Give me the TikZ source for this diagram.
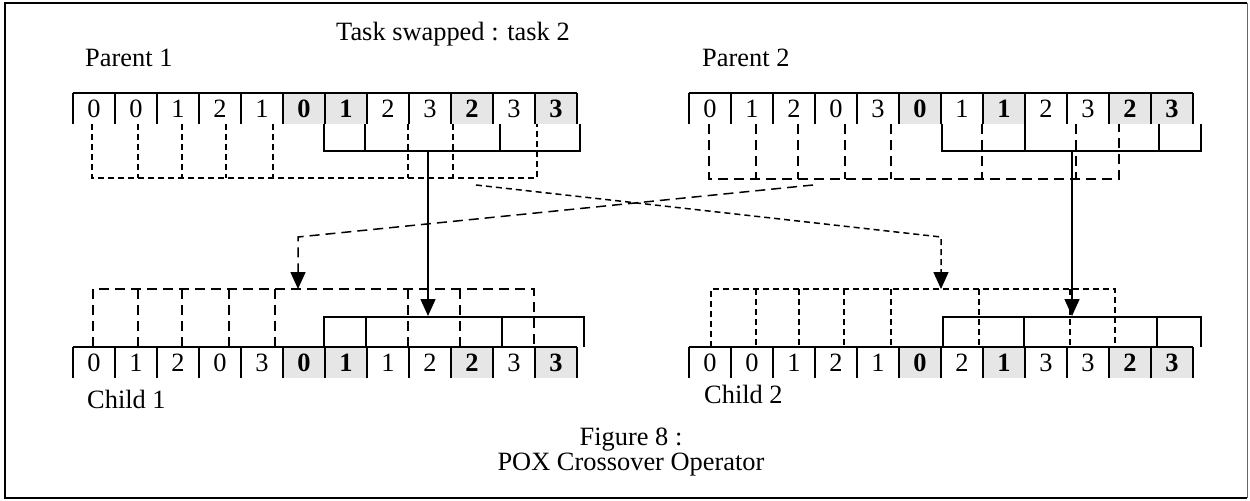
\documentclass[tikz,border=0pt]{standalone}
\usepackage{fontspec}
\setmainfont{Liberation Serif}
\usepackage{tikz}
\usetikzlibrary{arrows.meta}
\definecolor{cellgray}{RGB}{230,230,230}
\newcommand{\figsize}{\fontsize{26.5}{32}\selectfont}
\tikzset{
	rowline/.style={line width=1.6bp},
	cell/.style={minimum width=42bp, minimum height=31bp, inner sep=0pt, anchor=north,
		append after command={(\tikzlastnode.south west) edge[rowline] (\tikzlastnode.north west)
			(\tikzlastnode.north west) edge[rowline] (\tikzlastnode.north east)
			(\tikzlastnode.north east) edge[rowline] (\tikzlastnode.south east)}},
	hcell/.style={cell, fill=cellgray, font=\figsize\bfseries},
	shortdash/.style={line width=1.5bp, dash pattern=on 6bp off 4bp},
	longdash/.style={line width=1.5bp, dash pattern=on 10bp off 6bp},
	bracket/.style={line width=1.5bp},
	heading/.style={anchor=base west, inner sep=0pt},
}

\begin{document}
\begin{tikzpicture}[>={Triangle[length=17bp,width=15bp]}, font=\figsize]
	\useasboundingbox (0bp,0bp) rectangle (1250bp,-501bp);
	\draw [line width=2.2bp] (1247bp,-3bp) -- (5bp,-3bp) -- (5bp,-498bp) -- (1247bp,-498bp);
	\draw [line width=0.8bp, black!60] (1247bp,-3bp) -- (1247bp,-498bp);

	\node (swap) at (336bp,-40bp) [heading] {Task swapped : task 2};
	\node (par1) at (85bp,-66bp) [heading] {Parent 1};
	\node (par2) at (702bp,-66bp) [heading] {Parent 2};
	\node (chi1) at (87bp,-408bp) [heading] {Child 1};
	\node (chi2) at (704bp,-403bp) [heading] {Child 2};
	\node (fig) at (631bp,-445bp) [anchor=base, inner sep=0pt] {Figure 8 :};
	\node (pox) at (631bp,-470bp) [anchor=base, inner sep=0pt] {POX Crossover Operator};

	% parent 1
	\node (p1a) at (94bp,-93bp) [cell] {0};
	\node (p1b) at (136bp,-93bp) [cell] {0};
	\node (p1c) at (178bp,-93bp) [cell] {1};
	\node (p1d) at (220bp,-93bp) [cell] {2};
	\node (p1e) at (262bp,-93bp) [cell] {1};
	\node (p1f) at (304bp,-93bp) [hcell] {0};
	\node (p1g) at (346bp,-93bp) [hcell] {1};
	\node (p1h) at (388bp,-93bp) [cell] {2};
	\node (p1i) at (430bp,-93bp) [cell] {3};
	\node (p1j) at (472bp,-93bp) [hcell] {2};
	\node (p1k) at (514bp,-93bp) [cell] {3};
	\node (p1l) at (556bp,-93bp) [hcell] {3};

	% parent 2
	\node (p2a) at (710bp,-93bp) [cell] {0};
	\node (p2b) at (752bp,-93bp) [cell] {1};
	\node (p2c) at (794bp,-93bp) [cell] {2};
	\node (p2d) at (836bp,-93bp) [cell] {0};
	\node (p2e) at (878bp,-93bp) [cell] {3};
	\node (p2f) at (920bp,-93bp) [hcell] {0};
	\node (p2g) at (962bp,-93bp) [cell] {1};
	\node (p2h) at (1004bp,-93bp) [hcell] {1};
	\node (p2i) at (1046bp,-93bp) [cell] {2};
	\node (p2j) at (1088bp,-93bp) [cell] {3};
	\node (p2k) at (1130bp,-93bp) [hcell] {2};
	\node (p2l) at (1172bp,-93bp) [hcell] {3};

	% child 1
	\node (c1a) at (94bp,-347bp) [cell] {0};
	\node (c1b) at (136bp,-347bp) [cell] {1};
	\node (c1c) at (178bp,-347bp) [cell] {2};
	\node (c1d) at (220bp,-347bp) [cell] {0};
	\node (c1e) at (262bp,-347bp) [cell] {3};
	\node (c1f) at (304bp,-347bp) [hcell] {0};
	\node (c1g) at (346bp,-347bp) [hcell] {1};
	\node (c1h) at (388bp,-347bp) [cell] {1};
	\node (c1i) at (430bp,-347bp) [cell] {2};
	\node (c1j) at (472bp,-347bp) [hcell] {2};
	\node (c1k) at (514bp,-347bp) [cell] {3};
	\node (c1l) at (556bp,-347bp) [hcell] {3};

	% child 2
	\node (c2a) at (710bp,-347bp) [cell] {0};
	\node (c2b) at (752bp,-347bp) [cell] {0};
	\node (c2c) at (794bp,-347bp) [cell] {1};
	\node (c2d) at (836bp,-347bp) [cell] {2};
	\node (c2e) at (878bp,-347bp) [cell] {1};
	\node (c2f) at (920bp,-347bp) [hcell] {0};
	\node (c2g) at (962bp,-347bp) [cell] {2};
	\node (c2h) at (1004bp,-347bp) [hcell] {1};
	\node (c2i) at (1046bp,-347bp) [cell] {3};
	\node (c2j) at (1088bp,-347bp) [cell] {3};
	\node (c2k) at (1130bp,-347bp) [hcell] {2};
	\node (c2l) at (1172bp,-347bp) [hcell] {3};

	% brackets under parent 1
	\draw [shortdash] (92bp,-124bp) -- (92bp,-178bp) -- (537bp,-178bp) -- (537bp,-124bp);
	\draw [shortdash] (138bp,-124bp) -- (138bp,-178bp) (182bp,-124bp) -- (182bp,-178bp)
		(226bp,-124bp) -- (226bp,-178bp) (273bp,-124bp) -- (273bp,-178bp)
		(408bp,-124bp) -- (408bp,-178bp) (453bp,-124bp) -- (453bp,-178bp);
	\draw [bracket] (324bp,-124bp) |- (580bp,-151bp) -- (580bp,-124bp)
		(365bp,-124bp) -- (365bp,-151bp) (500bp,-124bp) -- (500bp,-151bp);

	% brackets under parent 2
	\draw [longdash] (709bp,-124bp) -- (709bp,-179bp) -- (1119bp,-179bp) -- (1119bp,-124bp);
	\draw [longdash] (756bp,-124bp) -- (756bp,-179bp) (798bp,-124bp) -- (798bp,-179bp)
		(845bp,-124bp) -- (845bp,-179bp) (891bp,-124bp) -- (891bp,-179bp)
		(982bp,-124bp) -- (982bp,-179bp) (1076bp,-124bp) -- (1076bp,-179bp);
	\draw [bracket] (942bp,-124bp) |- (1201bp,-151bp) -- (1201bp,-124bp)
		(1025bp,-124bp) -- (1025bp,-151bp) (1159bp,-124bp) -- (1159bp,-151bp);

	% brackets over child 1
	\draw [longdash] (93bp,-347bp) -- (93bp,-289bp) -- (534bp,-289bp) -- (534bp,-347bp);
	\draw [longdash] (138bp,-289bp) -- (138bp,-347bp) (182bp,-289bp) -- (182bp,-347bp)
		(229bp,-289bp) -- (229bp,-347bp) (275bp,-289bp) -- (275bp,-347bp)
		(408bp,-289bp) -- (408bp,-347bp) (460bp,-289bp) -- (460bp,-347bp);
	\draw [bracket] (324bp,-347bp) |- (584bp,-317bp) -- (584bp,-347bp)
		(366bp,-317bp) -- (366bp,-347bp) (502bp,-317bp) -- (502bp,-347bp);

	% brackets over child 2
	\draw [shortdash] (711bp,-347bp) -- (711bp,-289bp) -- (1115bp,-289bp) -- (1115bp,-347bp);
	\draw [shortdash] (756bp,-289bp) -- (756bp,-347bp) (799bp,-289bp) -- (799bp,-347bp)
		(844bp,-289bp) -- (844bp,-347bp) (891bp,-289bp) -- (891bp,-347bp)
		(979bp,-289bp) -- (979bp,-347bp) (1070bp,-289bp) -- (1070bp,-347bp);
	\draw [bracket] (943bp,-347bp) |- (1201bp,-317bp) -- (1201bp,-347bp)
		(1024bp,-317bp) -- (1024bp,-347bp) (1157bp,-317bp) -- (1157bp,-347bp);

	\coordinate (p1keep) at (428bp,-151bp);
	\coordinate (c1keep) at (428bp,-316bp);
	\coordinate (p2keep) at (1072bp,-151bp);
	\coordinate (c2keep) at (1072bp,-316bp);
	\coordinate (p1rest) at (476bp,-185bp);
	\coordinate (c2rest) at (941bp,-289bp);
	\coordinate (p2rest) at (813bp,-185bp);
	\coordinate (c1rest) at (298bp,-289bp);

	\draw [bracket,->] (p1keep) -- (c1keep);
	\draw [bracket,->] (p2keep) -- (c2keep);
	\draw [shortdash,->] (p1rest) -- (c2rest |- 0,-237bp) -- (c2rest);
	\draw [longdash,->] (p2rest) -- (c1rest |- 0,-237bp) -- (c1rest);

\end{tikzpicture}
\end{document}
